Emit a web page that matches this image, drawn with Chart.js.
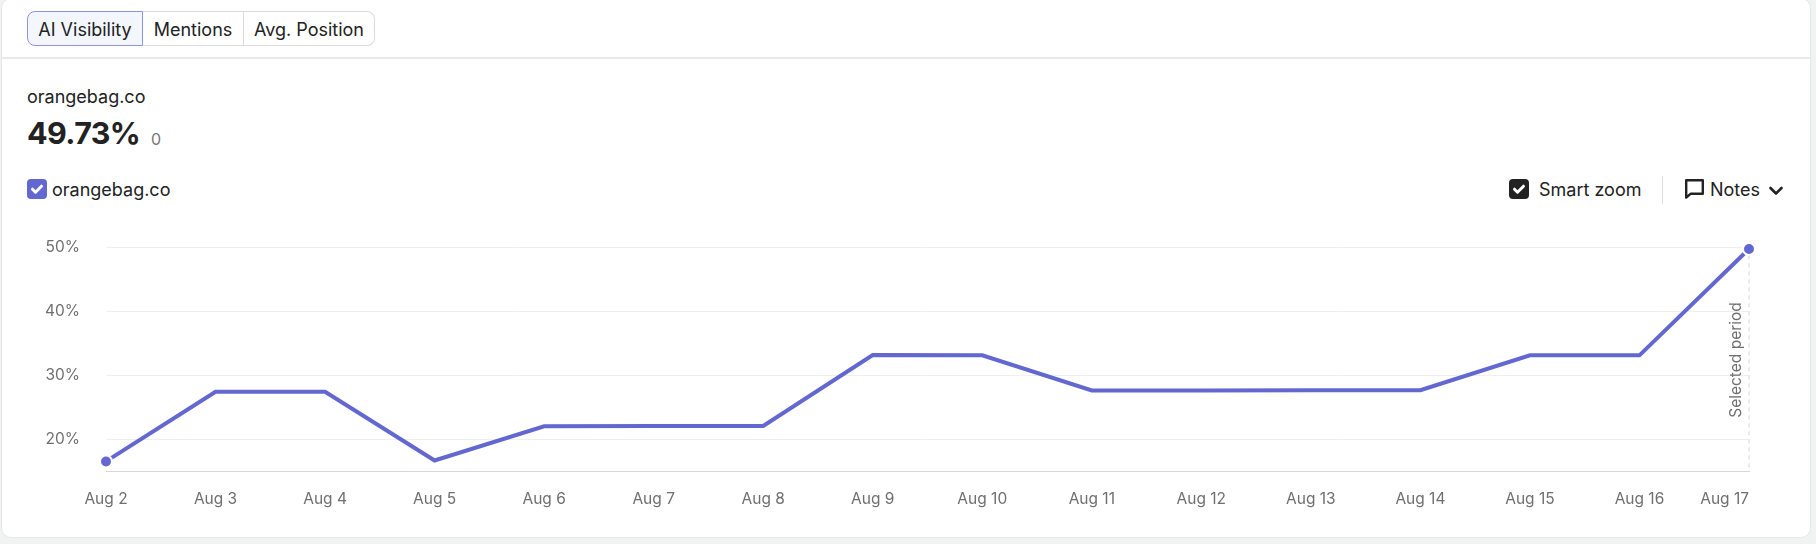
<!DOCTYPE html>
<html lang="en">
<head>
    <meta charset="UTF-8">
    <title>AI Visibility</title>
    <style>
        html, body { margin: 0; width: 1816px; height: 544px; overflow: hidden; background: #f1f3f3; font-family: Inter, sans-serif; color: #222; }
        .card { position: absolute; left: 1px; top: -2px; width: 1810px; height: 540px; background: #fff; border: 1px solid #e6e8e8; border-radius: 10px; box-sizing: border-box; }
        .abs { position: absolute; white-space: nowrap; line-height: 1; }
        .tabs { position: absolute; left: 27px; top: 11px; width: 348px; height: 35px; display: flex; box-sizing: border-box; font-size: 18px; }
        .tab { height: 35px; padding-top: 1px; box-sizing: border-box; display: flex; align-items: center; justify-content: center; border: 1px solid #d9dbde; border-left: none; }
        .tab.on { width: 116px; background: #f3f6fd; border: 1px solid #8a97dc; border-radius: 8px 0 0 8px; }
        .tab.mid { width: 101px; }
        .tab.end { width: 131px; border-radius: 0 8px 8px 0; }
        .hr { position: absolute; left: 2px; top: 57px; width: 1808px; height: 2px; background: #e9ebeb; }
        .sep { position: absolute; left: 1662px; top: 176px; width: 1px; height: 28px; background: #dcdede; }
        #chartBox { position: absolute; left: 0; top: 212px; width: 1816px; height: 309px; }
    </style>
</head>
<body>
<div class="card"></div>
<div class="tabs">
    <div class="tab on">AI Visibility</div>
    <div class="tab mid">Mentions</div>
    <div class="tab end">Avg. Position</div>
</div>
<div class="hr"></div>

<div class="abs" style="left:27px;top:118px;font-size:30.5px;font-weight:700;letter-spacing:-0.6px">49.73%</div>
<div class="abs" style="left:27px;top:88px;font-size:18px">orangebag.co</div>
<div class="abs" style="left:151px;top:131px;font-size:16px;color:#777">0</div>

<svg class="abs" style="left:27px;top:179px" width="20" height="20" viewBox="0 0 20 20">
    <rect width="20" height="20" rx="4" fill="#6367d0"/>
    <path d="M5.5 10.2l3 3 6-6" fill="none" stroke="#fff" stroke-width="3" stroke-linecap="round" stroke-linejoin="round"/>
</svg>
<div class="abs" style="left:52px;top:181px;font-size:18px">orangebag.co</div>

<svg class="abs" style="left:1509px;top:179px" width="20" height="20" viewBox="0 0 20 20">
    <rect width="20" height="20" rx="4" fill="#222"/>
    <path d="M5.5 10.2l3 3 6-6" fill="none" stroke="#fff" stroke-width="3" stroke-linecap="round" stroke-linejoin="round"/>
</svg>
<div class="abs" style="left:1539px;top:181px;font-size:18px">Smart zoom</div>
<div class="sep"></div>
<svg class="abs" style="left:1685px;top:179px" width="19" height="20" viewBox="0 0 19 20">
    <path d="M1.2 1.2h16.6v13.6H5.5L1.2 18.6z" fill="none" stroke="#222" stroke-width="2.4" stroke-linejoin="round"/>
</svg>
<div class="abs" style="left:1710px;top:181px;font-size:18px">Notes</div>
<svg class="abs" style="left:1769px;top:186px" width="14" height="10" viewBox="0 0 14 10">
    <path d="M1.5 2l5.5 5.5L12.5 2" fill="none" stroke="#222" stroke-width="2.6" stroke-linecap="round" stroke-linejoin="round"/>
</svg>

<div id="chartBox"><canvas id="myChart"></canvas></div>

<script src="https://cdn.jsdelivr.net/npm/chart.js"></script>
<script>
    const categories = ['Aug 2', 'Aug 3', 'Aug 4', 'Aug 5', 'Aug 6', 'Aug 7', 'Aug 8', 'Aug 9', 'Aug 10', 'Aug 11', 'Aug 12', 'Aug 13', 'Aug 14', 'Aug 15', 'Aug 16', 'Aug 17'];
    const visibility = [16.5, 27.4, 27.4, 16.65, 22.0, 22.05, 22.05, 33.15, 33.1, 27.6, 27.6, 27.65, 27.65, 33.1, 33.1, 49.73];
    const yTicks = [20, 30, 40, 50];
    const seriesName = 'orangebag.co';
    const periodLabel = 'Selected period';

    const lineColor = '#6367d0';
    const labelColor = '#6f6f6f';
    const labelFont = { family: 'Inter', size: 15.5 };
    const lastIndex = categories.length - 1;

    // dashed marker, its label, and the last date which sits right aligned
    const selectedPeriod = {
        id: 'selectedPeriod',
        beforeDatasetsDraw(chart) {
            const { ctx, chartArea, scales } = chart;
            const x = scales.x.getPixelForValue(lastIndex);
            ctx.save();
            ctx.strokeStyle = '#d4d4d4';
            ctx.lineWidth = 1;
            ctx.setLineDash([4, 4]);
            ctx.beginPath();
            ctx.moveTo(x, chartArea.top);
            ctx.lineTo(x, chartArea.bottom);
            ctx.stroke();
            ctx.setLineDash([]);

            ctx.fillStyle = labelColor;
            ctx.font = '15.5px Inter';
            ctx.textBaseline = 'middle';
            ctx.textAlign = 'right';
            ctx.fillText(categories[lastIndex], x, chartArea.bottom + 28);

            ctx.translate(x - 13, chartArea.bottom - 111);
            ctx.rotate(-Math.PI / 2);
            ctx.textAlign = 'center';
            ctx.fillText(periodLabel, 0, 0);
            ctx.restore();
        }
    };

    new Chart(document.getElementById('myChart'), {
        type: 'line',
        data: {
            labels: categories,
            datasets: [{
                label: seriesName,
                data: visibility,
                borderColor: lineColor,
                borderWidth: 4,
                borderJoinStyle: 'miter',
                tension: 0,
                clip: false,
                pointBackgroundColor: lineColor,
                pointBorderColor: '#fff',
                pointBorderWidth: 2,
                pointRadius: ctx => (ctx.dataIndex === 0 || ctx.dataIndex === lastIndex) ? 6 : 0
            }]
        },
        plugins: [selectedPeriod],
        options: {
            responsive: true,
            maintainAspectRatio: false,
            animation: false,
            layout: { padding: { top: 0, right: 67, bottom: 0, left: 0 } },
            plugins: { legend: { display: false }, tooltip: { enabled: false } },
            scales: {
                x: {
                    type: 'category',
                    offset: false,
                    afterFit: scale => { scale.height = 50; },
                    grid: { display: false, drawTicks: false },
                    border: { display: true, color: '#d6d6d6', width: 1 },
                    ticks: {
                        autoSkip: false,
                        maxRotation: 0,
                        padding: 19,
                        font: labelFont,
                        color: ctx => ctx.index === lastIndex ? 'rgba(0,0,0,0)' : labelColor
                    }
                },
                y: {
                    min: 15,
                    max: 50,
                    afterFit: scale => { scale.width = 106; },
                    afterBuildTicks: scale => { scale.ticks = yTicks.map(v => ({ value: v })); },
                    grid: { color: '#efefef', lineWidth: 1, drawTicks: false },
                    border: { display: false },
                    ticks: {
                        padding: 26,
                        font: labelFont,
                        color: labelColor,
                        callback: v => v + '%'
                    }
                }
            }
        }
    });
</script>
</body>
</html>
